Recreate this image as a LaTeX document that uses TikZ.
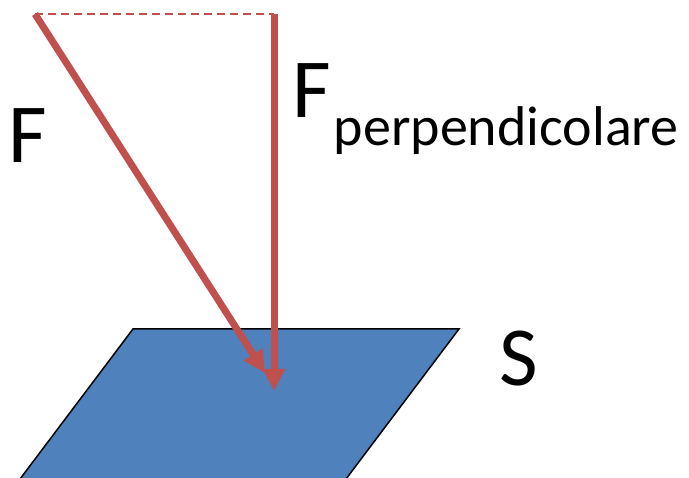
\documentclass[tikz,border=0pt]{standalone}
\usepackage{fontspec}
\setmainfont{Carlito}
\usepackage{xcolor}
\usetikzlibrary{arrows.meta}
\definecolor{forcered}{HTML}{C0504D}
\definecolor{surfblue}{HTML}{4F81BD}

\begin{document}
\begin{tikzpicture}[x=1pt,y=-1pt,
    force/.style={forcered,line width=7pt,-{Triangle[length=22pt,width=21pt]}},
    lbl/.style={inner sep=0pt,anchor=base west,font=\fontsize{84}{84}\selectfont}]
    \useasboundingbox (0,0) rectangle (689,478);
    \fill[surfblue] (133,329)--(459,329)--(346,479)--(20,479)--cycle;
    \draw[line width=1.5pt] (20,479)--(133,329)--(459,329)--(346,479);
    \coordinate (Ftop) at (35,14);
    \coordinate (Ptop) at (274,14);
    \coordinate (Ftip) at (265,373);
    \coordinate (Ptip) at (274,391);
    \draw[forcered,line width=2pt,dash pattern=on 8pt off 5pt] (Ftop)--(Ptop);
    \draw[force] (Ftop)--(Ftip);
    \draw[force] (Ptop)--(Ptip);
    \node[lbl] (F) at (8,163) {F};
    \node[lbl] (Fperp) at (292,118) {F\kern3pt\lower28pt\hbox{\fontsize{56}{56}\selectfont perpendicolare}};
    \node[lbl] (S) at (499,386) {S};
\end{tikzpicture}
\end{document}
